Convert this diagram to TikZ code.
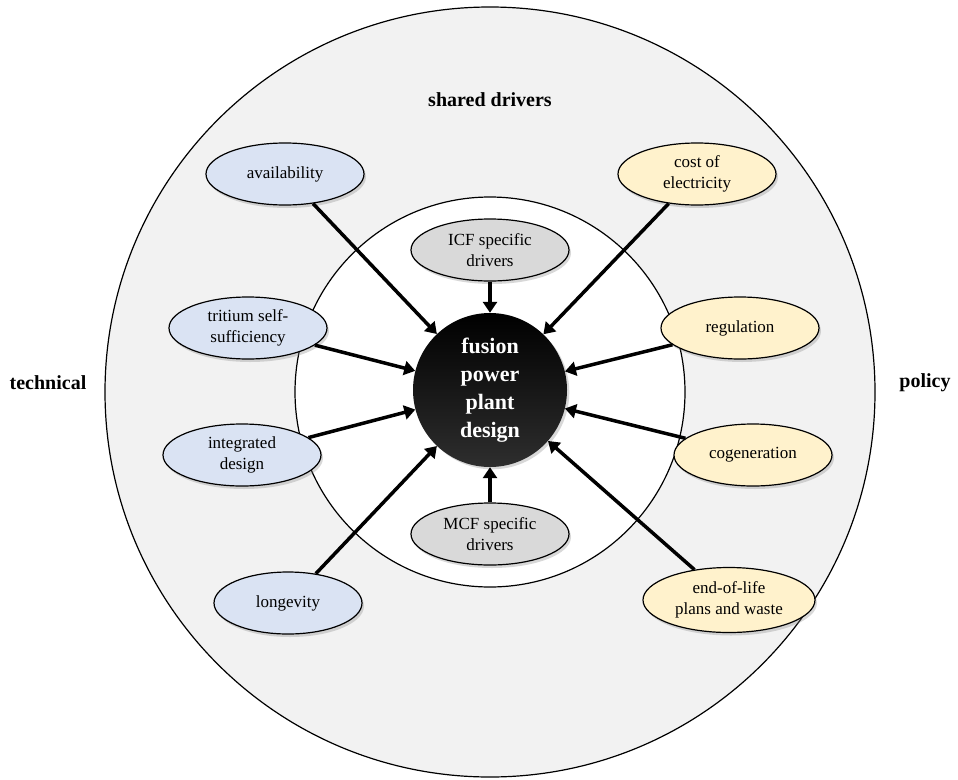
\documentclass[tikz,border=0pt]{standalone}
\usepackage{fontspec}
\setmainfont{Liberation Serif}
\usetikzlibrary{shapes.geometric,shadows,arrows.meta}
\definecolor{ringgray}{HTML}{F2F2F2}
\definecolor{techblue}{HTML}{DAE3F3}
\definecolor{policyyellow}{HTML}{FFF2CC}
\definecolor{confgray}{HTML}{D9D9D9}
\tikzset{
  driver/.style={ellipse,draw,line width=1.2pt,drop shadow={shadow xshift=2pt,shadow yshift=-3pt,opacity=0.3},
    minimum width=158pt,minimum height=62pt,inner sep=1pt,align=center,
    font=\fontsize{17}{21}\selectfont},
  techdriver/.style={driver,fill=techblue},
  policydriver/.style={driver,fill=policyyellow},
  confdriver/.style={driver,fill=confgray},
  pull/.style={line width=3.5pt,-{Triangle[length=11pt,width=14pt]}},
  heading/.style={font=\fontsize{20}{24}\selectfont\bfseries}
}
\begin{document}
\begin{tikzpicture}[x=1pt,y=-1pt]
\useasboundingbox (0,0) rectangle (958,779);
\node[circle,draw,line width=1.2pt,fill=ringgray,minimum size=770pt] (outer) at (490,392) {};
\node[circle,draw,line width=1.2pt,fill=white,minimum size=390pt] (inner) at (490,392) {};
\node[circle,top color=black,bottom color=black!82,minimum size=154pt,drop shadow={opacity=0.3},text=white,align=center,
  font=\fontsize{22}{28}\selectfont\bfseries] (core) at (490,390) {fusion\\power\\plant\\design};

\node[heading] (shared) at (490,100) {shared drivers};
\node[heading] (tech) at (48,383) {technical};
\node[heading] (pol) at (925,383) {policy};

\node[techdriver] (avail) at (285,174) {availability};
\node[techdriver] (tritium) at (248,328) {tritium self-\\sufficiency};
\node[techdriver] (integ) at (242,455) {integrated\\design};
\node[techdriver,minimum width=148pt] (longev) at (288,603) {longevity};

\node[policydriver] (cost) at (697,174) {cost of\\electricity};
\node[policydriver] (reg) at (740,328) {regulation};
\node[policydriver] (cogen) at (753,455) {cogeneration};
\node[policydriver,minimum width=172pt,minimum height=65pt] (eol) at (729,600) {end-of-life\\plans and waste};

\node[confdriver] (icf) at (490,250) {ICF specific\\drivers};
\node[confdriver] (mcf) at (490,534) {MCF specific\\drivers};

\foreach \src in {avail,tritium,integ,longev,cost,reg,cogen,eol,icf,mcf}
  \draw[pull] (\src) -- (core);
\end{tikzpicture}
\end{document}
